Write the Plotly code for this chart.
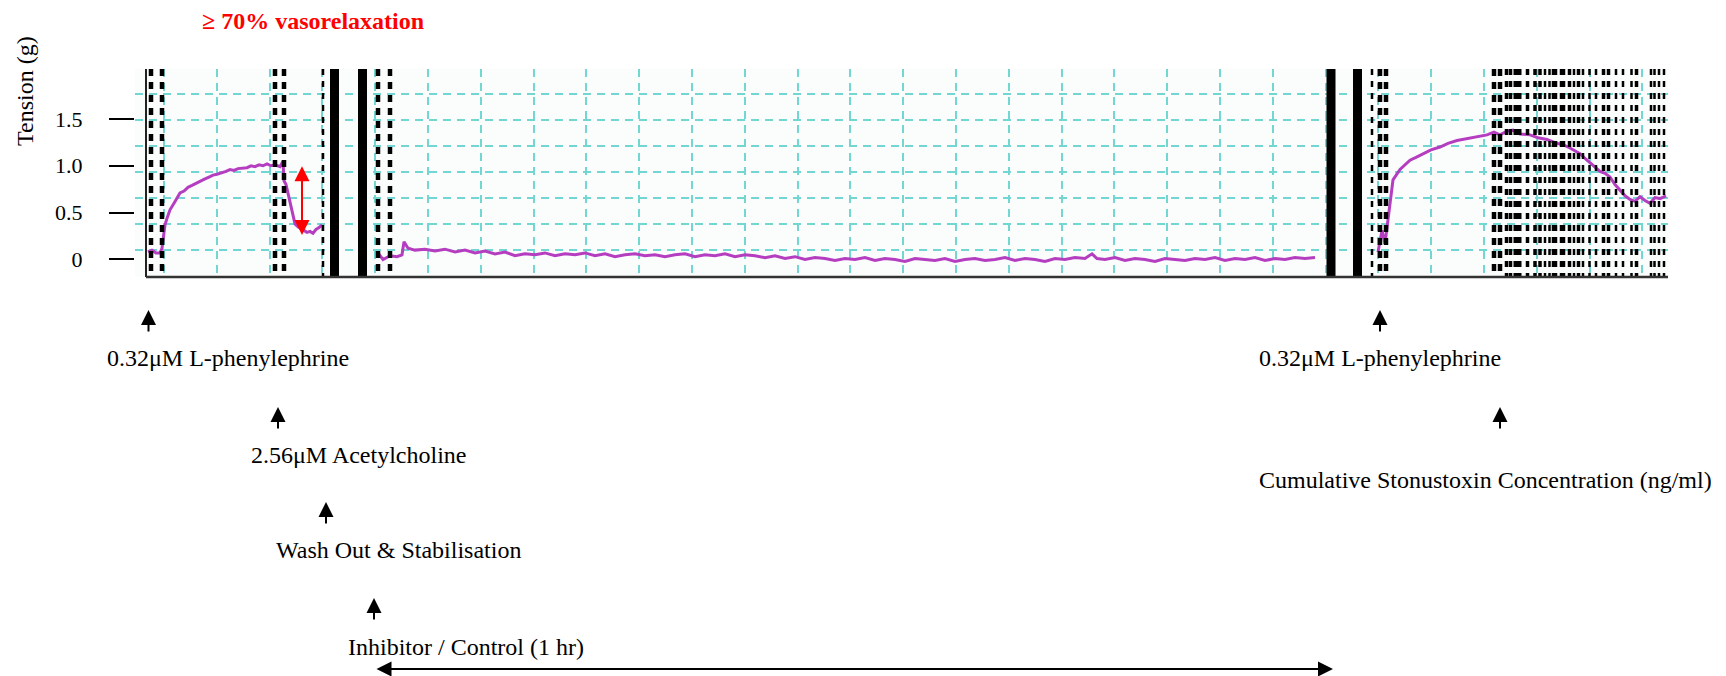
import plotly.graph_objects as go

# ---------------- data (time in arbitrary recorder units, tension in g) ----------------
seg1_t = [2, 6, 10, 14, 16, 17, 19, 21, 24, 28,
          31, 34, 38, 42, 46, 51, 55, 59, 63, 67,
          71, 75, 80, 84, 88, 92, 97, 101, 105, 109,
          113, 117, 121, 125, 129, 134, 137, 138, 140, 142,
          144, 146, 149, 152, 155, 158, 161, 164, 167, 170,
          173, 176]
seg1_v = [0.08, 0.10, 0.07, 0.07, 0.12, 0.21, 0.37, 0.44, 0.53, 0.60,
          0.66, 0.71, 0.73, 0.77, 0.79, 0.82, 0.84, 0.86, 0.88, 0.90,
          0.91, 0.92, 0.94, 0.96, 0.95, 0.97, 0.98, 0.98, 1.00, 0.99,
          1.01, 1.00, 1.02, 1.00, 1.01, 0.99, 1.05, 0.84, 0.80, 0.70,
          0.62, 0.52, 0.38, 0.35, 0.33, 0.31, 0.29, 0.30, 0.28, 0.32,
          0.34, 0.37]

seg2_t = [232, 237, 244, 251, 256, 258, 262, 269, 279, 289,
          299, 309, 319, 329, 339, 349, 359, 369, 379, 389,
          399, 409, 419, 429, 439, 449, 459, 469, 479, 489,
          499, 509, 519, 529, 539, 549, 559, 569, 579, 589,
          599, 609, 619, 629, 639, 649, 659, 669, 679, 689,
          699, 709, 719, 729, 739, 749, 759, 769, 779, 789,
          799, 809, 819, 829, 839, 849, 859, 869, 879, 889,
          899, 909, 919, 929, 939, 946, 951, 959, 969, 979,
          989, 999, 1009, 1019, 1029, 1039, 1049, 1059, 1069, 1079,
          1089, 1099, 1109, 1119, 1129, 1139, 1149, 1159, 1169]
seg2_v = [0.07, 0.00, 0.04, 0.03, 0.05, 0.19, 0.12, 0.10, 0.11, 0.09,
          0.11, 0.08, 0.10, 0.07, 0.09, 0.06, 0.08, 0.04, 0.06, 0.05,
          0.07, 0.04, 0.06, 0.05, 0.07, 0.04, 0.06, 0.03, 0.05, 0.06,
          0.04, 0.05, 0.03, 0.05, 0.06, 0.03, 0.05, 0.04, 0.06, 0.03,
          0.05, 0.04, 0.02, 0.04, 0.01, 0.03, 0.00, 0.02, 0.01, -0.01,
          0.01, 0.00, 0.02, -0.01, 0.01, 0.00, -0.02, 0.01, 0.00, -0.01,
          0.01, -0.02, 0.00, 0.01, -0.01, 0.00, 0.02, -0.01, 0.01, 0.00,
          -0.02, 0.01, 0.00, 0.02, 0.01, 0.06, 0.01, 0.00, 0.02, -0.01,
          0.01, 0.00, -0.02, 0.01, 0.00, -0.01, 0.01, 0.00, 0.02, -0.01,
          0.01, 0.00, 0.02, -0.01, 0.01, 0.00, 0.02, 0.01, 0.02]

seg3_t = [1232, 1234, 1236, 1239, 1245, 1247, 1254, 1259, 1264, 1270,
          1277, 1285, 1294, 1302, 1311, 1321, 1331, 1341, 1348, 1354,
          1361, 1367, 1374, 1384, 1392, 1401, 1411, 1418, 1424, 1434,
          1439, 1444, 1454, 1459, 1464, 1469, 1474, 1479, 1484, 1489,
          1494, 1499, 1504, 1509, 1514, 1520]
seg3_v = [0.08, 0.22, 0.31, 0.17, 0.71, 0.85, 0.96, 1.01, 1.06, 1.09,
          1.13, 1.17, 1.20, 1.24, 1.27, 1.29, 1.31, 1.33, 1.36, 1.33,
          1.37, 1.38, 1.34, 1.33, 1.30, 1.28, 1.24, 1.22, 1.19, 1.13,
          1.08, 1.03, 0.94, 0.92, 0.88, 0.80, 0.74, 0.68, 0.64, 0.62,
          0.67, 0.63, 0.60, 0.66, 0.65, 0.68]

assert len(seg1_t) == len(seg1_v) and len(seg2_t) == len(seg2_v) and len(seg3_t) == len(seg3_v)

# event markers recorded on the chart (times)
bath_change_t = [188.5, 216.5, 1185, 1211.5]
event_heavy_t = [5, 16, 129, 138, 232, 244, 1234, 1240, 1348, 1354]
event_thin_t = [177, 1226, 1399, 1403.5, 1428, 1437, 1443.5, 1450, 1470, 1477,
                1485.5, 1505, 1508.5, 1513, 1518]
event_mid_t = [1360.5, 1364.5, 1381.5, 1389, 1394, 1423.5, 1432.5, 1457.5, 1462.5, 1490.5]
event_wide_t = [1408.5, 1416.5]
event_block_t = [1371.5]

y_ticks = [0, 0.5, 1.0, 1.5]
y_tick_text = ["0", "0.5", "1.0", "1.5"]

relax_from, relax_to, relax_t = 1.01, 0.26, 156

title_text = "≥ 70% vasorelaxation"
ylabel = "Tension (g)"
labels = [
    "0.32μM L-phenylephrine",
    "2.56μM Acetylcholine",
    "Wash Out & Stabilisation",
    "Inhibitor / Control (1 hr)",
    "0.32μM L-phenylephrine",
    "Cumulative Stonustoxin Concentration (ng/ml)",
]

# ---------------- figure ----------------
W, H = 1726, 676
OFF = 8  # page body margin of the html document
FONT = "Liberation Serif"
TRACE = "#b53ec0"
GRID = "#72d6d2"


def px(x):
    return (x - OFF) / W


def py(y):
    return 1 - (y - OFF) / H


fig = go.Figure()
for t, v in [(seg1_t, seg1_v), (seg2_t, seg2_v), (seg3_t, seg3_v)]:
    fig.add_trace(go.Scatter(x=t, y=v, mode="lines",
                             line=dict(color=TRACE, width=3), showlegend=False,
                             hoverinfo="skip"))

shapes = []
for t in bath_change_t:
    shapes.append(dict(type="line", xref="x", yref="y domain", x0=t, x1=t, y0=0, y1=1,
                       line=dict(color="black", width=9)))
for group, w, dash in [(event_heavy_t, 4.5, "7px,6px"), (event_thin_t, 2.5, "6px,6px"),
                       (event_mid_t, 3.5, "6px,6px"), (event_wide_t, 5.5, "6px,6px"),
                       (event_block_t, 8, "6px,6px")]:
    for t in group:
        shapes.append(dict(type="line", xref="x", yref="y domain", x0=t, x1=t, y0=1, y1=0,
                           line=dict(color="black", width=w, dash=dash)))
# axis lines of the recorder trace
shapes.append(dict(type="line", xref="x", yref="y domain", x0=0, x1=0, y0=0, y1=1,
                   line=dict(color="#222", width=2)))
shapes.append(dict(type="line", xref="x", yref="y domain", x0=0, x1=1522, y0=0, y1=0,
                   line=dict(color="#333", width=2.5)))

ann = []
ann.append(dict(text="<b>" + title_text + "</b>", x=px(200), y=py(21), xref="paper", yref="paper",
                xanchor="left", yanchor="middle", showarrow=False,
                font=dict(family=FONT, size=24, color="red")))
ann.append(dict(text=ylabel, x=px(25), y=py(91), xref="paper", yref="paper", textangle=-90,
                xanchor="center", yanchor="middle", showarrow=False,
                font=dict(family=FONT, size=24, color="black")))
# red double arrow (relaxation amplitude)
ann.append(dict(text="", x=relax_t, y=relax_to, xref="x", yref="y", axref="x", ayref="y",
                ax=relax_t, ay=relax_from, showarrow=True, arrowside="end+start",
                arrowhead=2, startarrowhead=2, arrowsize=1.5, startarrowsize=1.5,
                arrowwidth=2, arrowcolor="red", standoff=0, startstandoff=0))

label_pos = [(105, 358), (249, 455), (274, 550), (346, 647), (1257, 358), (1257, 480)]
arrow_pos = [(148.5, 310), (278, 407), (326, 502), (374, 598), (1380, 310), (1500, 407)]
for txt, (lx, ly) in zip(labels, label_pos):
    ann.append(dict(text=txt, x=px(lx), y=py(ly), xref="paper", yref="paper",
                    xanchor="left", yanchor="middle", showarrow=False,
                    font=dict(family=FONT, size=24, color="black")))
for ax_, ay_ in arrow_pos:
    ann.append(dict(text="", x=px(ax_), y=py(ay_), xref="paper", yref="paper",
                    ax=0, ay=23, showarrow=True, arrowhead=2, arrowsize=1.5,
                    arrowwidth=2, arrowcolor="black", standoff=0))
# 1 hr inhibitor period
ann.append(dict(text="", x=px(1333), y=py(669), xref="paper", yref="paper",
                ax=-(1333 - 375), ay=0, showarrow=True, arrowside="end+start",
                arrowhead=2, startarrowhead=2, arrowsize=1.5, startarrowsize=1.5,
                arrowwidth=2, arrowcolor="black", standoff=0, startstandoff=0))

fig.update_layout(
    width=W, height=H,
    margin=dict(l=0, r=0, t=0, b=0),
    paper_bgcolor="white",
    plot_bgcolor="#fbfdfd",
    font=dict(family=FONT, size=22, color="black"),
    xaxis=dict(domain=[px(135), px(1668)], range=[-11, 1522],
               showgrid=True, gridcolor=GRID, gridwidth=1.5, griddash="8px,6px",
               tick0=282, dtick=52.8, tickmode="linear",
               showticklabels=False, ticks="", zeroline=False, showline=False),
    yaxis=dict(domain=[py(277), py(69)], range=[-0.187, 2.033],
               tickmode="array", tickvals=y_ticks, ticktext=y_tick_text,
               ticks="outside", ticklen=25, tickwidth=2, tickcolor="black",
               ticklabelstandoff=22,
               tickfont=dict(family=FONT, size=22),
               showgrid=False, zeroline=False, showline=False,
               minor=dict(tickmode="linear", tick0=0.10, dtick=0.2775, showgrid=True,
                          gridcolor=GRID, gridwidth=1.5, griddash="8px,6px", ticks="")),
    shapes=shapes,
    annotations=ann,
)

fig.write_html("out.html")
